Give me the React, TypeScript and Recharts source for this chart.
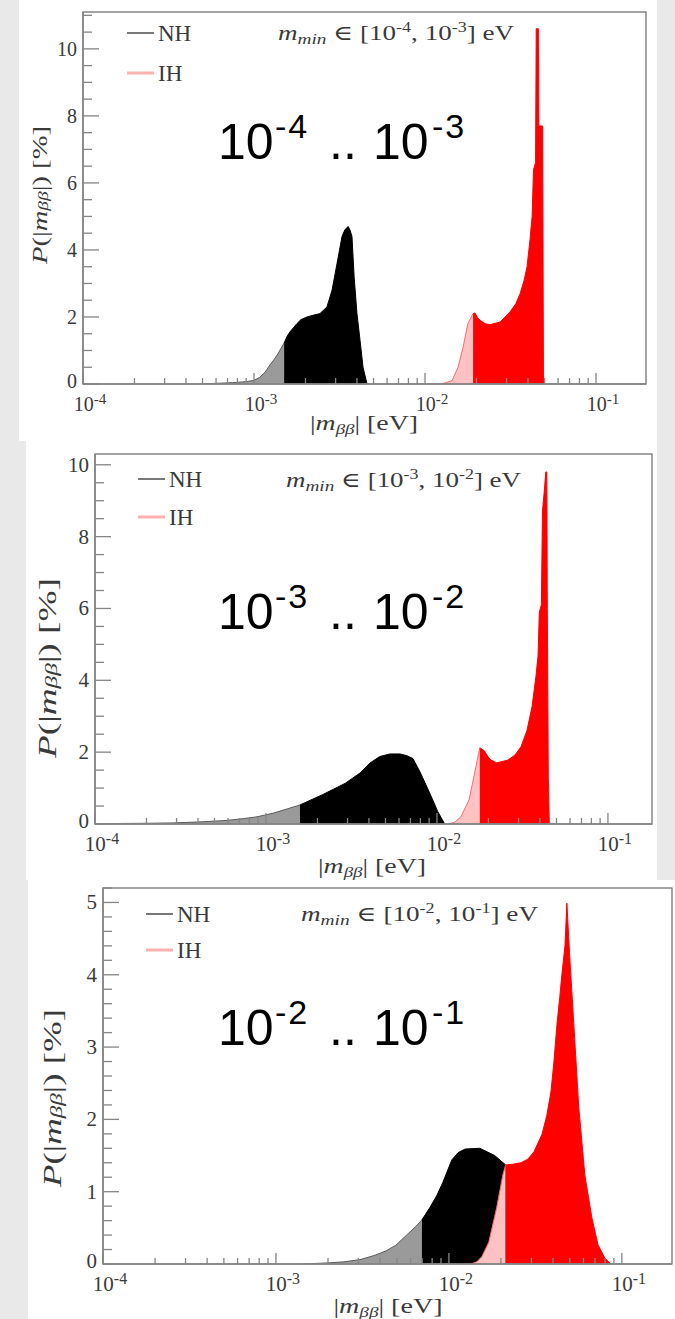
import { AreaChart, Area, XAxis, YAxis, ReferenceArea } from "recharts";

const SERIF = "'Liberation Serif', 'DejaVu Serif', serif";
const SANS = "'Liberation Sans', Arial, sans-serif";
const INK = "#3a3a3a";
const AXIS = "#858585";

// x axis ticks (log scale)
const xMajor = [1e-4, 1e-3, 1e-2, 1e-1];
const xMajorExp = ["-4", "-3", "-2", "-1"];
const xMinorSteps = [2, 3, 4, 5, 6, 7, 8, 9];

// panel 1: m_min in [1e-4, 1e-3]
const p1NhM = [4.8e-4, 6.0e-4, 7.5e-4, 9.0e-4, 1.0e-3, 1.08e-3, 1.16e-3, 1.24e-3, 1.31e-3, 1.38e-3, 1.44e-3, 1.5e-3, 1.56e-3, 1.62e-3, 1.7e-3, 1.78e-3, 1.88e-3, 2.04e-3, 2.21e-3, 2.43e-3, 2.67e-3, 2.86e-3, 3.06e-3, 3.27e-3, 3.4e-3, 3.55e-3, 3.64e-3, 3.74e-3, 3.85e-3, 4.0e-3, 4.17e-3, 4.34e-3, 4.58e-3];
const p1NhP = [0, 0.02, 0.04, 0.07, 0.11, 0.2, 0.35, 0.57, 0.73, 0.9, 1.07, 1.22, 1.42, 1.55, 1.68, 1.8, 1.92, 2.0, 2.05, 2.1, 2.3, 2.8, 3.6, 4.4, 4.6, 4.7, 4.6, 4.4, 3.2, 2.1, 1.3, 0.5, 0];
const p1NhSplit = 1.5e-3;
const p1IhM = [1.22e-2, 1.3e-2, 1.44e-2, 1.56e-2, 1.67e-2, 1.78e-2, 1.91e-2, 1.96e-2, 2.03e-2, 2.1e-2, 2.25e-2, 2.4e-2, 2.75e-2, 3.14e-2, 3.4e-2, 3.6e-2, 3.8e-2, 3.95e-2, 4.11e-2, 4.23e-2, 4.31e-2, 4.43e-2, 4.47e-2, 4.6e-2, 4.63e-2, 4.87e-2, 4.93e-2];
const p1IhP = [0, 0.03, 0.1, 0.5, 1.1, 1.8, 2.1, 2.12, 1.98, 1.9, 1.8, 1.77, 1.85, 2.15, 2.4, 2.7, 3.1, 3.5, 4.3, 5.0, 6.4, 6.6, 10.6, 10.6, 7.7, 7.7, 0];
const p1IhSplit = 1.91e-2;
const p1YMajor = [0, 2, 4, 6, 8, 10];

// panel 2: m_min in [1e-3, 1e-2]
const p2NhM = [1.0e-4, 2.0e-4, 2.86e-4, 4.2e-4, 5.92e-4, 7.4e-4, 8.86e-4, 1.1e-3, 1.33e-3, 1.58e-3, 2.15e-3, 2.9e-3, 3.55e-3, 4.06e-3, 4.64e-3, 5.31e-3, 6.08e-3, 6.68e-3, 7.24e-3, 7.96e-3, 8.51e-3, 9.35e-3, 1.01e-2, 1.11e-2];
const p2NhP = [0.01, 0.02, 0.03, 0.06, 0.1, 0.15, 0.2, 0.3, 0.42, 0.53, 0.82, 1.13, 1.42, 1.7, 1.88, 1.95, 1.95, 1.9, 1.82, 1.45, 1.15, 0.72, 0.35, 0];
const p2NhSplit = 1.58e-3;
const p2IhM = [1.16e-2, 1.27e-2, 1.38e-2, 1.54e-2, 1.69e-2, 1.78e-2, 1.88e-2, 2.04e-2, 2.24e-2, 2.6e-2, 2.86e-2, 3.1e-2, 3.36e-2, 3.6e-2, 3.79e-2, 3.9e-2, 3.97e-2, 4.08e-2, 4.14e-2, 4.25e-2, 4.33e-2, 4.39e-2, 4.42e-2, 4.48e-2, 4.54e-2];
const p2IhP = [0, 0.05, 0.2, 0.67, 1.6, 2.12, 2.05, 1.8, 1.7, 1.78, 1.92, 2.15, 2.6, 3.27, 4.1, 4.67, 5.9, 6.1, 8.7, 9.3, 9.8, 9.8, 6.0, 1.3, 0];
const p2IhSplit = 1.78e-2;
const p2YMajor = [0, 2, 4, 6, 8, 10];

// panel 3: m_min in [1e-2, 1e-1]
const p3NhM = [1.43e-3, 2.0e-3, 2.47e-3, 3.06e-3, 3.73e-3, 4.32e-3, 4.94e-3, 5.87e-3, 6.44e-3, 6.98e-3, 7.76e-3, 8.53e-3, 9.23e-3, 1.04e-2, 1.13e-2, 1.24e-2, 1.51e-2, 1.84e-2, 2.13e-2, 2.41e-2, 2.75e-2, 3.14e-2, 3.59e-2];
const p3NhP = [0, 0.015, 0.03, 0.06, 0.12, 0.18, 0.26, 0.43, 0.52, 0.61, 0.78, 0.95, 1.13, 1.44, 1.54, 1.59, 1.6, 1.5, 1.37, 1.0, 0.5, 0.15, 0];
const p3NhSplit = 6.98e-3;
const p3IhM = [1.34e-2, 1.45e-2, 1.55e-2, 1.7e-2, 1.89e-2, 2.05e-2, 2.13e-2, 2.34e-2, 2.61e-2, 2.86e-2, 3.1e-2, 3.45e-2, 3.68e-2, 3.89e-2, 4.05e-2, 4.21e-2, 4.38e-2, 4.5e-2, 4.69e-2, 4.81e-2, 5.0e-2, 5.28e-2, 5.64e-2, 6.11e-2, 6.71e-2, 7.27e-2, 7.98e-2, 8.64e-2];
const p3IhP = [0, 0.03, 0.1, 0.3, 0.78, 1.23, 1.37, 1.38, 1.4, 1.45, 1.55, 1.79, 2.05, 2.38, 2.8, 3.3, 3.7, 4.0, 4.4, 4.99, 4.24, 3.3, 2.16, 1.23, 0.64, 0.27, 0.08, 0];
const p3IhSplit = 2.13e-2;
const p3YMajor = [0, 1, 2, 3, 4, 5];

type Row = { m: number; nhLight?: number; nhDark?: number; ihLight?: number; ihDark?: number };

interface PanelCfg {
  top: number;
  height: number;
  bgLeft: number;
  bgRight: number;
  plot: { left: number; right: number; top: number; bottom: number };
  xMax: number;
  yMax: number;
  yMajor: number[];
  yMinorStep: number;
  nhM: number[];
  nhP: number[];
  nhSplit: number;
  ihM: number[];
  ihP: number[];
  ihSplit: number;
  exps: [string, string];
  fs: number;
  legend: { x: number; y: number; gap: number };
  title: { x: number; y: number; w: number };
  bigY: number;
  xLabel: { cx: number; y: number; w: number };
  yLabel: { cx: number; cy: number; len: number; fs: number };
}

const panels: PanelCfg[] = [
  {
    top: 0, height: 441, bgLeft: 19, bgRight: 657,
    plot: { left: 83, right: 646, top: 12, bottom: 384 },
    xMax: 0.196, yMax: 11.1, yMajor: p1YMajor, yMinorStep: 0.5,
    nhM: p1NhM, nhP: p1NhP, nhSplit: p1NhSplit, ihM: p1IhM, ihP: p1IhP, ihSplit: p1IhSplit,
    exps: ["-4", "-3"], fs: 20,
    legend: { x: 127, y: 33, gap: 40 },
    title: { x: 278, y: 40, w: 236 },
    bigY: 159,
    xLabel: { cx: 364, y: 430, w: 108 },
    yLabel: { cx: 39, cy: 195, len: 138, fs: 22 },
  },
  {
    top: 441, height: 439, bgLeft: 26, bgRight: 657,
    plot: { left: 95, right: 652, top: 454, bottom: 824 },
    xMax: 0.181, yMax: 10.3, yMajor: p2YMajor, yMinorStep: 0.5,
    nhM: p2NhM, nhP: p2NhP, nhSplit: p2NhSplit, ihM: p2IhM, ihP: p2IhP, ihSplit: p2IhSplit,
    exps: ["-3", "-2"], fs: 21,
    legend: { x: 138, y: 479, gap: 38 },
    title: { x: 286, y: 487, w: 235 },
    bigY: 629,
    xLabel: { cx: 372, y: 873, w: 108 },
    yLabel: { cx: 47, cy: 668, len: 180, fs: 25 },
  },
  {
    top: 880, height: 439, bgLeft: 28, bgRight: 675,
    plot: { left: 103, right: 672, top: 888, bottom: 1264 },
    xMax: 0.195, yMax: 5.2, yMajor: p3YMajor, yMinorStep: 0.2,
    nhM: p3NhM, nhP: p3NhP, nhSplit: p3NhSplit, ihM: p3IhM, ihP: p3IhP, ihSplit: p3IhSplit,
    exps: ["-2", "-1"], fs: 21,
    legend: { x: 146, y: 914, gap: 36 },
    title: { x: 301, y: 921, w: 237 },
    bigY: 1045,
    xLabel: { cx: 388, y: 1313, w: 109 },
    yLabel: { cx: 52, cy: 1098, len: 178, fs: 25 },
  },
];

function buildRows(c: PanelCfg): Row[] {
  const rows: Row[] = [];
  c.nhM.forEach((m, i) => {
    const r: Row = { m };
    if (m <= c.nhSplit) r.nhLight = c.nhP[i];
    if (m >= c.nhSplit) r.nhDark = c.nhP[i];
    rows.push(r);
  });
  c.ihM.forEach((m, i) => {
    const r: Row = { m };
    if (m <= c.ihSplit) r.ihLight = c.ihP[i];
    if (m >= c.ihSplit) r.ihDark = c.ihP[i];
    rows.push(r);
  });
  return rows.sort((a, b) => a.m - b.m);
}

function Panel({ c }: { c: PanelCfg }) {
  const rows = buildRows(c);
  const xTicks = [
    ...xMajor,
    ...xMajor.flatMap((d) => xMinorSteps.map((s) => s * d)),
  ].filter((v) => v < c.xMax).sort((a, b) => a - b);
  const yTicks: number[] = [];
  for (let v = 0; v <= c.yMax + 1e-9; v += c.yMinorStep) yTicks.push(Math.round(v * 1000) / 1000);

  const renderXTick = (props: any) => {
    const { x, y, payload } = props;
    const v = payload.value;
    const k = xMajor.findIndex((d) => Math.abs(d - v) / d < 1e-6);
    const major = k >= 0;
    return (
      <g>
        <line x1={x} x2={x} y1={y} y2={y - (major ? 11 : 6)} stroke={AXIS} strokeWidth={1.3} />
        {major && (
          <text x={x + 7} y={y + 27} textAnchor="middle" fontFamily={SERIF} fontSize={c.fs} fill={INK}>
            10
            <tspan dy={-7} fontSize={c.fs * 0.76}>{xMajorExp[k]}</tspan>
          </text>
        )}
      </g>
    );
  };

  const renderYTick = (props: any) => {
    const { x, y, payload } = props;
    const v = payload.value;
    const major = c.yMajor.some((m) => Math.abs(m - v) < 1e-6);
    return (
      <g>
        <line x1={x} x2={x + (major ? 16 : 9)} y1={y} y2={y} stroke={AXIS} strokeWidth={1.3} />
        {major && (
          <text x={x - 6} y={y + (v === 0 ? 4 : 7)} textAnchor="end" fontFamily={SERIF} fontSize={c.fs} fill={INK}>
            {v}
          </text>
        )}
      </g>
    );
  };

  // axes get a 1px band (zero-sized axes are not drawn)
  return (
    <div style={{ position: "absolute", left: 0, top: c.top, width: 675, height: c.height }}>
      <AreaChart
        width={675}
        height={c.height}
        data={rows}
        margin={{
          top: c.plot.top - c.top,
          bottom: c.top + c.height - c.plot.bottom - 1,
          left: c.plot.left - 1,
          right: 675 - c.plot.right,
        }}
      >
        <Area dataKey="nhLight" type="linear" stroke="#5a5a5a" strokeWidth={1} fill="#9a9a9a" fillOpacity={1} connectNulls isAnimationActive={false} dot={false} activeDot={false} />
        <Area dataKey="nhDark" type="linear" stroke="#000000" strokeWidth={1} fill="#000000" fillOpacity={1} connectNulls isAnimationActive={false} dot={false} activeDot={false} />
        <Area dataKey="ihLight" type="linear" stroke="#ff6a6a" strokeWidth={1} fill="#ffc2c2" fillOpacity={1} connectNulls isAnimationActive={false} dot={false} activeDot={false} />
        <Area dataKey="ihDark" type="linear" stroke="#ff0000" strokeWidth={1} fill="#ff0000" fillOpacity={1} connectNulls isAnimationActive={false} dot={false} activeDot={false} />
        <XAxis
          type="number"
          dataKey="m"
          scale="log"
          domain={[1e-4, c.xMax]}
          allowDataOverflow
          ticks={xTicks}
          interval={0}
          height={1}
          tickSize={0}
          tickMargin={0}
          tickLine={false}
          axisLine={{ stroke: AXIS, strokeWidth: 1.5 }}
          tick={renderXTick}
        />
        <YAxis
          type="number"
          domain={[0, c.yMax]}
          allowDataOverflow
          ticks={yTicks}
          interval={0}
          width={1}
          tickSize={0}
          tickMargin={0}
          tickLine={false}
          axisLine={{ stroke: AXIS, strokeWidth: 1.5 }}
          tick={renderYTick}
        />
        <ReferenceArea x1={1e-4} x2={c.xMax} y1={0} y2={c.yMax} fill="none" stroke={AXIS} strokeWidth={1.5} ifOverflow="visible" />
      </AreaChart>
    </div>
  );
}

function Notes({ c }: { c: PanelCfg }) {
  const L = c.legend;
  const b = c.bigY;
  const s = b - 21;
  return (
    <g>
      {/* legend */}
      <line x1={L.x} x2={L.x + 27} y1={L.y} y2={L.y} stroke="#4a4a4a" strokeWidth={1.5} />
      <text x={L.x + 31} y={L.y + 8} fontFamily={SERIF} fontSize={23} fill={INK}>NH</text>
      <line x1={L.x} x2={L.x + 27} y1={L.y + L.gap} y2={L.y + L.gap} stroke="#ffb0b0" strokeWidth={3} />
      <text x={L.x + 31} y={L.y + L.gap + 8} fontFamily={SERIF} fontSize={23} fill={INK}>IH</text>

      {/* m_min range title */}
      <text x={c.title.x} y={c.title.y} fontFamily={SERIF} fontSize={21} fill={INK} textLength={c.title.w} lengthAdjust="spacingAndGlyphs">
        <tspan fontStyle="italic">m</tspan>
        <tspan fontStyle="italic" fontSize={15} dy={4}>{"min"}</tspan>
        <tspan dy={-4}>{" \u2208 [10"}</tspan>
        <tspan fontSize={14} dy={-8}>{c.exps[0]}</tspan>
        <tspan dy={8}>{", 10"}</tspan>
        <tspan fontSize={14} dy={-8}>{c.exps[1]}</tspan>
        <tspan dy={8}>{"] eV"}</tspan>
      </text>

      {/* big overlay text */}
      <text fontFamily={SANS} fill="#000">
        <tspan x={218} y={b} fontSize={50}>10</tspan>
        <tspan x={275} y={s} fontSize={34} letterSpacing={2}>{c.exps[0]}</tspan>
        <tspan x={329} y={b} fontSize={50}>..</tspan>
        <tspan x={373} y={b} fontSize={50}>10</tspan>
        <tspan x={432} y={s} fontSize={34} letterSpacing={2}>{c.exps[1]}</tspan>
      </text>

      {/* x axis label */}
      <text x={c.xLabel.cx} y={c.xLabel.y} textAnchor="middle" fontFamily={SERIF} fontSize={22} fill={INK} textLength={c.xLabel.w} lengthAdjust="spacingAndGlyphs">
        {"|"}
        <tspan fontStyle="italic">m</tspan>
        <tspan fontStyle="italic" fontSize={15} dy={4}>{"\u03b2\u03b2"}</tspan>
        <tspan dy={-4}>{"| [eV]"}</tspan>
      </text>

      {/* y axis label */}
      <text
        x={c.yLabel.cx}
        y={c.yLabel.cy}
        transform={`rotate(-90 ${c.yLabel.cx} ${c.yLabel.cy})`}
        textAnchor="middle"
        dominantBaseline="central"
        fontFamily={SERIF}
        fontSize={c.yLabel.fs}
        fill={INK}
        textLength={c.yLabel.len}
        lengthAdjust="spacingAndGlyphs"
      >
        <tspan fontStyle="italic">P</tspan>
        <tspan>{"(|"}</tspan>
        <tspan fontStyle="italic">m</tspan>
        <tspan fontStyle="italic" fontSize={c.yLabel.fs * 0.68} dy={4}>{"\u03b2\u03b2"}</tspan>
        <tspan dy={-4}>{"|) [%]"}</tspan>
      </text>
    </g>
  );
}

export default function App() {
  return (
    <div style={{ position: "absolute", left: 0, top: 0, width: 675, height: 1319, background: "#e9e9e9", overflow: "hidden" }}>
      {panels.map((c, i) => (
        <div
          key={"bg" + i}
          style={{ position: "absolute", left: c.bgLeft, top: c.top, width: c.bgRight - c.bgLeft, height: c.height, background: "#ffffff" }}
        />
      ))}
      {panels.map((c, i) => (
        <Panel key={"p" + i} c={c} />
      ))}
      <svg width={675} height={1319} style={{ position: "absolute", left: 0, top: 0, pointerEvents: "none" }}>
        {panels.map((c, i) => (
          <Notes key={"n" + i} c={c} />
        ))}
      </svg>
    </div>
  );
}
